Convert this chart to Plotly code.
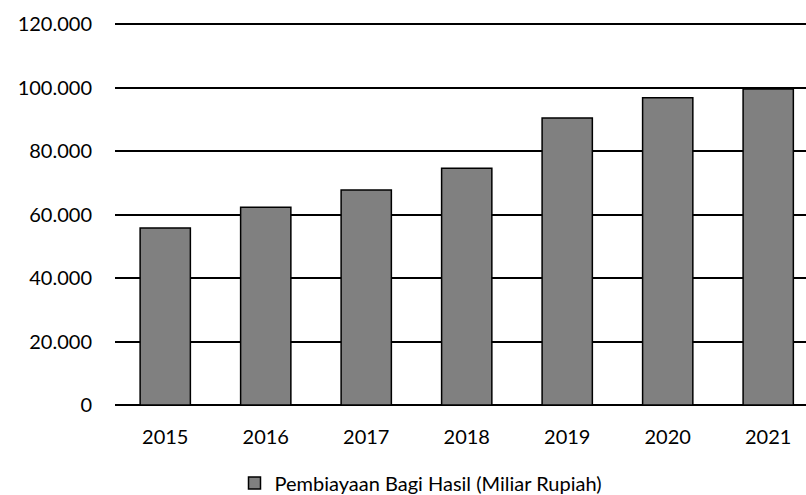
import plotly.graph_objects as go

years = ["2015", "2016", "2017", "2018", "2019", "2020", "2021"]
values = [55750, 62300, 67700, 74600, 90400, 96800, 99500]
series_name = "Pembiayaan Bagi Hasil (Miliar Rupiah)"
ytick_vals = [0, 20000, 40000, 60000, 80000, 100000, 120000]

fig = go.Figure()
fig.add_trace(go.Bar(
    x=years, y=values, name=series_name,
    marker=dict(color="#808080", line=dict(color="black", width=1.5)),
    width=0.5, showlegend=True,
))

font = "Lato, 'Open Sans', sans-serif"
fig.update_layout(
    width=806, height=495,
    margin=dict(l=115, r=0, t=22, b=90, autoexpand=False),
    plot_bgcolor="white", paper_bgcolor="white",
    separators=",.",
    font=dict(family=font, size=20, color="black"),
    showlegend=True,
    legend=dict(orientation="h", x=421 / 806, xref="container", xanchor="center",
                y=1 - 483 / 495, yref="container", yanchor="middle",
                font=dict(size=20), itemwidth=30),
    xaxis=dict(type="category", range=[-0.5, 6.376], showgrid=False,
               showline=False, ticks="", ticklabelstandoff=18,
               tickfont=dict(size=20)),
    yaxis=dict(range=[0, 120630], tickvals=ytick_vals, tickformat=",d",
               showgrid=True, gridcolor="black", gridwidth=1.5,
               zeroline=True, zerolinecolor="black", zerolinewidth=2,
               showline=False, ticks="", ticklabelstandoff=22,
               tickfont=dict(size=20)),
)
fig.write_html("out.html")
